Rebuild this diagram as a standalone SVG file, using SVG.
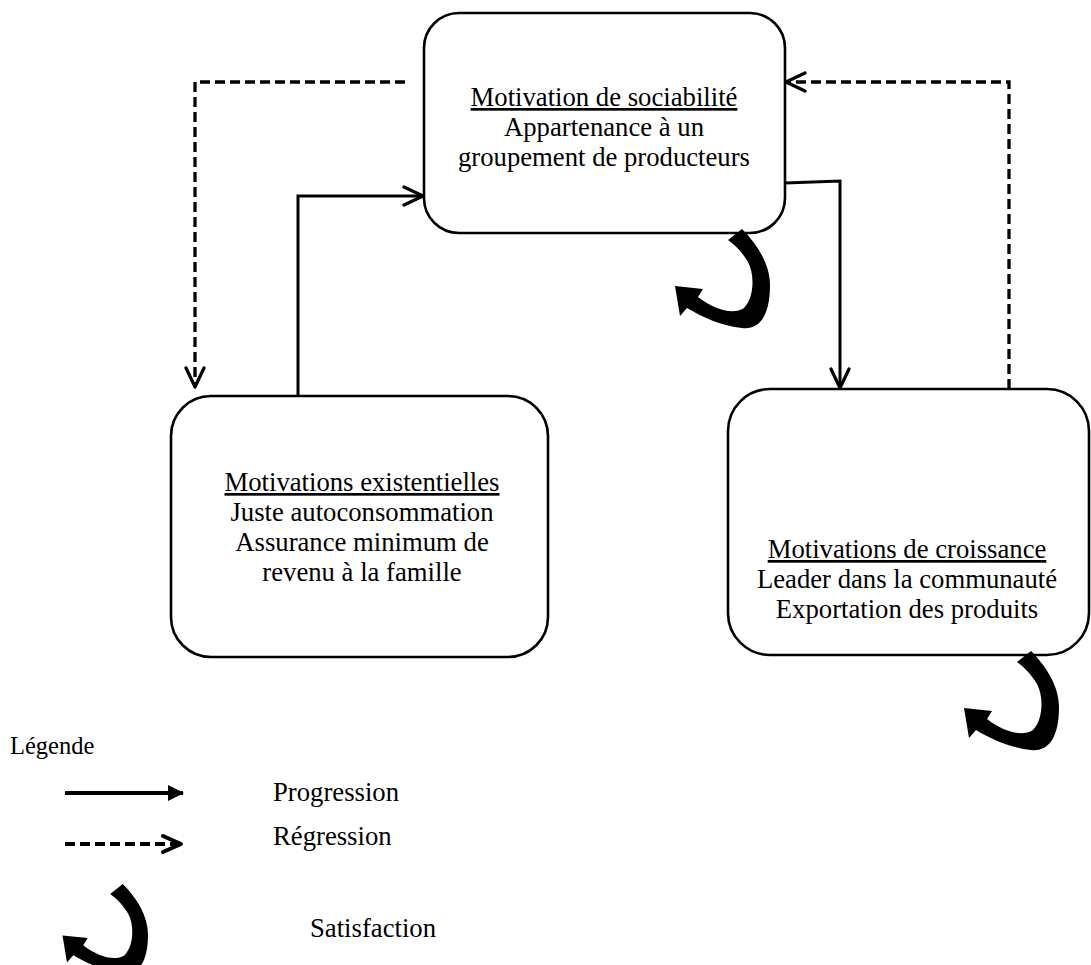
<svg xmlns="http://www.w3.org/2000/svg" width="1091" height="965" viewBox="0 0 1091 965">
<style>
  .box { fill: #ffffff; stroke: #000000; stroke-width: 2.6; }
  .txt { font-family: "Liberation Serif", "Times New Roman", serif; font-size: 26.7px; fill: #000000; }
  .small { font-size: 24.5px; }
  .c { text-anchor: middle; }
  .u { text-decoration: underline; }
  .conn { fill: none; stroke: #000000; stroke-width: 3; }
  .dash { stroke-dasharray: 10 5; stroke-width: 3.3; }
  .leg { stroke-width: 4; }
  .curl { fill: #000000; stroke: none; }
</style>
<defs>
  <marker id="openArrow" markerUnits="userSpaceOnUse" markerWidth="24" markerHeight="24" viewBox="0 0 24 24" refX="21" refY="12" orient="auto">
    <path d="M2,3 L21,12 L2,21" fill="none" stroke="#000000" stroke-width="3.2" stroke-dasharray="none" stroke-linecap="round" stroke-linejoin="round"/>
  </marker>
  <marker id="openArrowBold" markerUnits="userSpaceOnUse" markerWidth="24" markerHeight="24" viewBox="0 0 24 24" refX="21" refY="12" orient="auto">
    <path d="M3,4 L21,12 L3,20" fill="none" stroke="#000000" stroke-width="4" stroke-dasharray="none" stroke-linecap="round" stroke-linejoin="round"/>
  </marker>
  <marker id="solidArrow" markerUnits="userSpaceOnUse" markerWidth="16" markerHeight="16" viewBox="0 0 16 16" refX="15" refY="8" orient="auto">
    <path d="M0,0 L16,8 L0,16 Z" fill="#000000" stroke="none"/>
  </marker>
  <path id="curlShape" d="M58,20 L72,9 C88,25 100,45 100,65 C100,95 90,110 72,108 C52,106 32,97 17,88 L10,96 L5,66 L33,69 L28,77 C45,90 63,95 74,88 C84,78 85,55 78,42 C72,32 66,26 58,20 Z"/>
</defs>

<g id="connectors">
  <path class="conn" d="M298,396 L298,196 L423,196" marker-end="url(#openArrow)"/>
  <path class="conn" d="M785,183 L840,181 L840,388" marker-end="url(#openArrow)"/>
  <path class="conn dash" d="M405,82 L195,82 L195,387" marker-end="url(#openArrow)"/>
  <path class="conn dash" d="M1009,389 L1009,82 L786,82" marker-end="url(#openArrow)"/>
</g>

<g id="node-sociabilite">
  <rect class="box" x="424" y="13" width="361" height="220" rx="35" ry="35"/>
  <text class="txt c u" x="604" y="106">Motivation de sociabilité</text>
  <text class="txt c" x="604" y="136">Appartenance à un</text>
  <text class="txt c" x="604" y="166">groupement de producteurs</text>
</g>

<g id="node-existentielles">
  <rect class="box" x="171" y="396" width="377" height="261" rx="40" ry="40"/>
  <text class="txt c u" x="362" y="491">Motivations existentielles</text>
  <text class="txt c" x="362" y="521">Juste autoconsommation</text>
  <text class="txt c" x="362" y="551">Assurance minimum de</text>
  <text class="txt c" x="362" y="581">revenu à la famille</text>
</g>

<g id="node-croissance">
  <rect class="box" x="728" y="389" width="361" height="266" rx="42" ry="42"/>
  <text class="txt c u" x="907" y="558">Motivations de croissance</text>
  <text class="txt c" x="907" y="588">Leader dans la communauté</text>
  <text class="txt c" x="907" y="618">Exportation des produits</text>
</g>

<g id="satisfaction-top">
  <use href="#curlShape" class="curl" transform="translate(670,220)"/>
</g>
<g id="satisfaction-right">
  <use href="#curlShape" class="curl" transform="translate(959,642)"/>
</g>

<g id="legend">
  <text class="txt small" x="10" y="754">Légende</text>
  <path class="conn leg" d="M65,793 L183,793" marker-end="url(#solidArrow)"/>
  <text class="txt" x="273" y="801">Progression</text>
  <path class="conn dash leg" d="M65,844 L181,844" marker-end="url(#openArrowBold)"/>
  <text class="txt" x="273" y="845">Régression</text>
  <use href="#curlShape" class="curl" transform="translate(58,876) scale(0.9)"/>
  <text class="txt" x="310" y="937">Satisfaction</text>
</g>
</svg>
